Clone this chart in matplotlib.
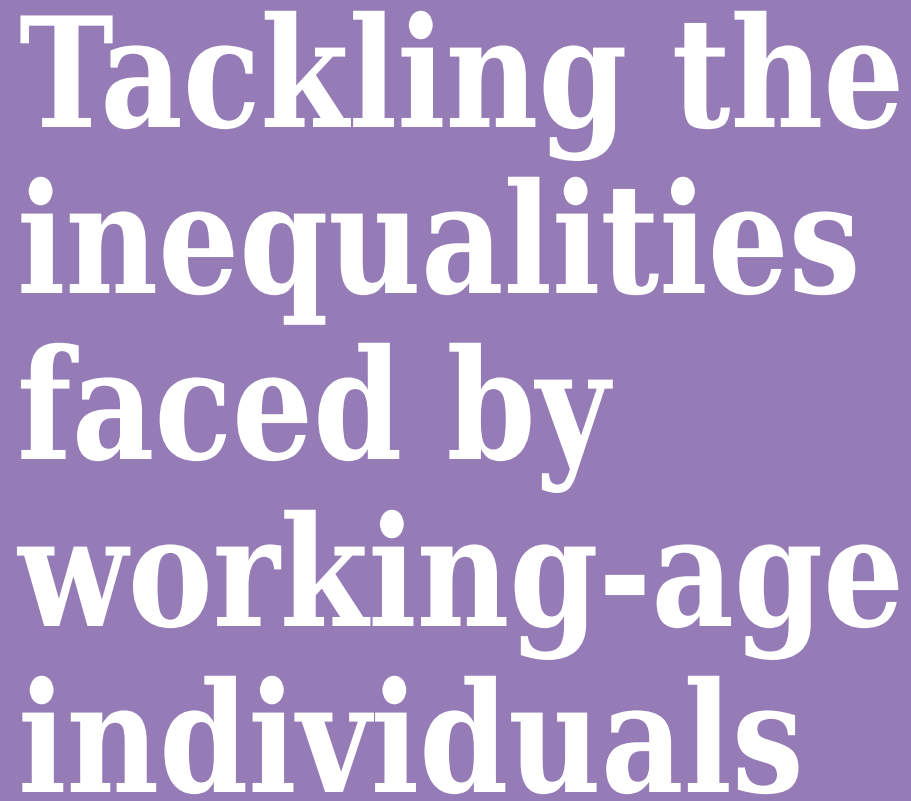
import matplotlib
matplotlib.use("Agg")
import matplotlib.pyplot as plt
from matplotlib.patheffects import AbstractPathEffect
from matplotlib.transforms import Affine2D

lines = ["Tackling the", "inequalities", "faced by", "working-age", "individuals"]
baselines_px = [127, 293, 459, 626, 792]
left_px = [19, 17, 17, 18, 18]


class YStretch(AbstractPathEffect):
    """Stretch glyph outlines vertically about the text baseline."""

    def __init__(self, sy):
        super().__init__()
        self.sy = sy

    def draw_path(self, renderer, gc, tpath, affine, rgbFace=None):
        y0 = affine.get_matrix()[1, 2]
        new = affine + Affine2D().translate(0, -y0).scale(1, self.sy).translate(0, y0)
        renderer.draw_path(gc, tpath, new, rgbFace)


W, H = 911, 801
fig = plt.figure(figsize=(W / 100, H / 100), dpi=100)
fig.patch.set_facecolor("#957CB7")

for txt, b, x in zip(lines, baselines_px, left_px):
    fig.text(x / W, 1 - b / H, txt, color="white", fontsize=102,
             family=["DejaVu Serif"], fontweight="bold", fontstretch="condensed",
             ha="left", va="baseline", path_effects=[YStretch(1.08)])

fig.savefig("out.png", dpi=100, facecolor=fig.get_facecolor())
